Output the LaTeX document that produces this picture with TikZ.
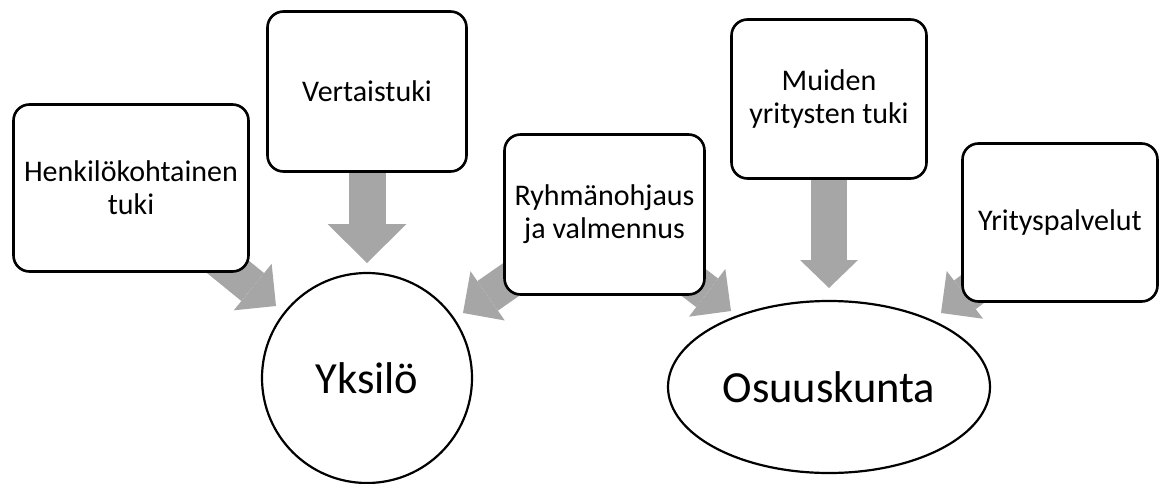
\documentclass[tikz,border=0pt]{standalone}
\usepackage{fontspec}
\setmainfont{Carlito}
\usetikzlibrary{arrows.meta,shapes.geometric,backgrounds}
\definecolor{arrowgray}{RGB}{166,166,166}
\begin{document}
\begin{tikzpicture}[x=1pt,y=-1pt,
  box/.style={draw, line width=2.6pt, rounded corners=16pt, fill=white, align=center,
    font=\fontsize{30}{33}\selectfont, inner sep=0pt},
  big/.style={draw, line width=2.2pt, fill=white, font=\fontsize{44.5}{50}\selectfont, inner sep=0pt},
  fat/.style={draw=arrowgray, line width=36pt}]
\useasboundingbox (0,0) rectangle (1175,484);
\node[box, minimum width=235pt, minimum height=167pt] (b1) at (131,188) {Henkilökohtainen\\tuki};
\node[box, minimum width=199pt, minimum height=160pt] (b2) at (367,91.5) {Vertaistuki};
\node[box, minimum width=200pt, minimum height=160pt] (b3) at (604.5,214.5) {Ryhmänohjaus\\ja valmennus};
\node[box, minimum width=195pt, minimum height=159pt] (b4) at (829,99) {Muiden\\yritysten tuki};
\node[box, minimum width=195pt, minimum height=158pt] (b5) at (1060,222.5) {Yrityspalvelut};
\node[big, circle, minimum size=210pt] (yk) at (367,378) {Yksilö};
\node[big, ellipse, minimum width=322pt, minimum height=172pt] (os) at (829,387) {Osuuskunta};
\coordinate (t1) at (276,306);
\coordinate (t2) at (367,263);
\coordinate (t3a) at (463,313);
\coordinate (t3b) at (731,311);
\coordinate (t4) at (829,288);
\coordinate (t5) at (941,313);
\begin{scope}[on background layer]
\draw[fat, -{Triangle[length=30pt,width=60pt,line width=0pt]}] (b1.center) -- (t1);
\draw[fat, line width=37pt, -{Triangle[length=39pt,width=79pt,line width=0pt]}] (b2.center) -- (t2);
\draw[fat, -{Triangle[length=30pt,width=60pt,line width=0pt]}] (b3.center) -- (t3a);
\draw[fat, -{Triangle[length=30pt,width=60pt,line width=0pt]}] (b3.center) -- (t3b);
\draw[fat, -{Triangle[length=28pt,width=58pt,line width=0pt]}] (b4.center) -- (t4);
\draw[fat, -{Triangle[length=30pt,width=60pt,line width=0pt]}] (b5.center) -- (t5);
\end{scope}
\end{tikzpicture}
\end{document}
